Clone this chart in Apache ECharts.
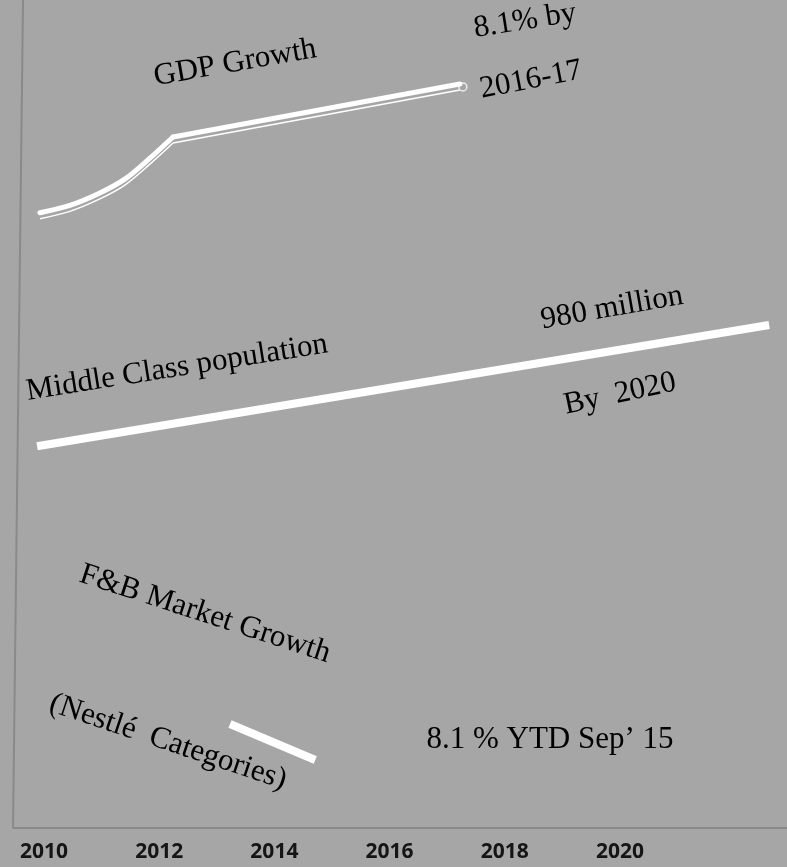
<!DOCTYPE html>
<html><head><meta charset="utf-8">
<script src="https://cdn.jsdelivr.net/npm/echarts@6/dist/echarts.min.js"></script>
<style>html,body{margin:0;padding:0;background:#a6a6a6}#c{width:787px;height:867px}</style>
</head><body><div id="c"></div>
<script>
// x-axis tick labels (years)
const xTicks = [2010, 2012, 2014, 2016, 2018, 2020];
// GDP growth curve
const gdpYears  = [2009.93, 2010.45, 2010.97, 2011.41, 2011.84, 2012.24, 2017.22];
const gdpValues = [74.3, 75.2, 76.7, 78.4, 80.9, 83.45, 89.86];
// Middle class population line
const middleYears  = [2009.88, 2022.59];
const middleValues = [46.1, 60.75];
// F&B market growth line
const fbYears  = [2013.23, 2014.71];
const fbValues = [12.56, 8.21];
// left frame edge (slightly slanted)
const edgeYears  = [2009.636, 2009.462];
const edgeValues = [100, 0];
// annotation texts
const labelTexts = ['GDP Growth', '8.1% by', '2016-17', 'Middle Class population', '980 million', 'By  2020',
  'F&B Market Growth', '(Nestlé  Categories)', '8.1 % YTD Sep\u2019 15'];

const zip = (a, b) => a.map((v, i) => [v, b[i]]);
const gdp = zip(gdpYears, gdpValues);
const KINK = 5; // index where the curve turns into a straight run
const gdpCurve = gdp.slice(0, KINK + 1);
const gdpStraight = gdp.slice(KINK);
const WHITE = '#ffffff', BG = '#a6a6a6', AXIS = '#8a8a8a';
const SERIF = '"Liberation Serif", "Times New Roman", serif';

const layout = [
  {x: 235, y: 63, r: 10, s: 31},
  {x: 525, y: 21, r: 9, s: 31},
  {x: 531, y: 80, r: 11, s: 31},
  {x: 177, y: 368, r: 9, s: 31},
  {x: 612, y: 308, r: 10, s: 31},
  {x: 620, y: 394, r: 12, s: 31},
  {x: 205, y: 614, r: -18, s: 31},
  {x: 168, y: 742, r: -18.5, s: 31},
  {x: 550, y: 740, r: 0, s: 31}
];

const thin = {color: WHITE, width: 1.5, shadowColor: WHITE, shadowBlur: 0, shadowOffsetY: 6};
const thick = {color: WHITE, width: 5, cap: 'round', join: 'round'};

const chart = echarts.init(document.getElementById('c'), null, {renderer: 'canvas'});
chart.setOption({
  backgroundColor: BG,
  animation: false,
  grid: {left: 13, right: 0, top: 0, bottom: 39},
  xAxis: {
    type: 'value', min: 2009.462, max: 2022.9,
    axisLine: {show: true, lineStyle: {color: AXIS, width: 2}},
    axisTick: {show: false},
    splitLine: {show: false},
    axisLabel: {
      customValues: xTicks, margin: 14, formatter: v => String(v),
      fontFamily: '"Open Sans", sans-serif', fontSize: 21, fontWeight: 'bold', color: '#151515'
    }
  },
  yAxis: {type: 'value', min: 0, max: 100, show: false},
  series: [
    {type: 'line', data: zip(edgeYears, edgeValues), symbol: 'none', silent: true,
     lineStyle: {color: AXIS, width: 2}},
    {type: 'line', data: gdpCurve, smooth: 0.3, symbol: 'none', z: 3, lineStyle: thin},
    {type: 'line', data: gdpStraight, symbol: 'none', z: 3, lineStyle: thin},
    {type: 'scatter', data: [gdp[gdp.length - 1]], symbol: 'circle', symbolSize: 8, symbolOffset: [3, 3], z: 4,
     itemStyle: {color: BG, borderColor: WHITE, borderWidth: 1.5}},
    {type: 'line', data: gdpCurve, smooth: 0.3, symbol: 'none', z: 5, lineStyle: thick},
    {type: 'line', data: gdpStraight, symbol: 'none', z: 5, lineStyle: thick},
    {type: 'line', data: zip(middleYears, middleValues), symbol: 'none', z: 5,
     lineStyle: {color: WHITE, width: 8, cap: 'butt'}},
    {type: 'line', data: zip(fbYears, fbValues), symbol: 'none', z: 5,
     lineStyle: {color: WHITE, width: 8, cap: 'butt'}}
  ],
  graphic: labelTexts.map((t, i) => ({
    type: 'text', x: layout[i].x, y: layout[i].y, rotation: layout[i].r * Math.PI / 180, z: 10,
    style: {text: t, fontFamily: SERIF, fontSize: layout[i].s, fill: '#000',
            align: 'center', verticalAlign: 'middle', textAlign: 'center', textVerticalAlign: 'middle'}
  }))
});
</script></body></html>
